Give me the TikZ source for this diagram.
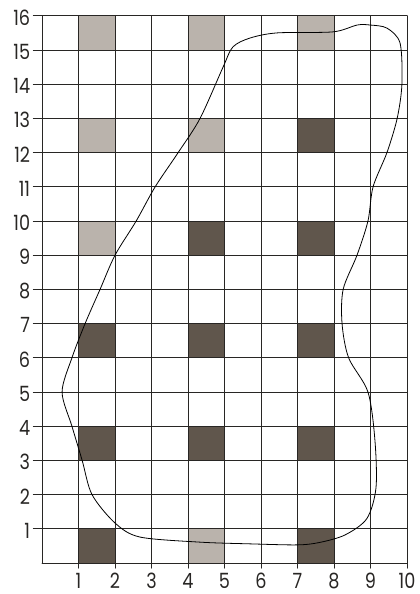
\documentclass[tikz,border=0pt]{standalone}
\usepackage{fontspec}
\setmainfont{Poppins}[FakeStretch=0.84]
\usetikzlibrary{positioning}

\definecolor{darkcell}{RGB}{96,86,76}
\definecolor{lightcell}{RGB}{186,179,172}
\definecolor{inkline}{RGB}{40,38,36}

\begin{document}
\begin{tikzpicture}[x=36.5pt, y=34.2pt, line cap=round]
\tikzstyle{gridline}=[draw=inkline, line width=0.9pt]
\tikzstyle{dark}=[fill=darkcell]
\tikzstyle{light}=[fill=lightcell]
\tikzstyle{tag}=[text=inkline, font=\fontsize{21}{21}\selectfont, inner sep=0pt]
\tikzstyle{outline}=[draw=black, line width=0.8pt]

\useasboundingbox (-1.151,-0.906) rectangle (10.329,16.462);

% shaded cells
\foreach \c/\r in {1/15, 4/15, 7/15, 1/12, 4/12, 1/9, 4/0}
  \path[light] (\c,\r) rectangle ++(1,1);
\foreach \c/\r in {7/12, 4/9, 7/9, 1/6, 4/6, 7/6, 1/3, 4/3, 7/3, 1/0, 7/0}
  \path[dark] (\c,\r) rectangle ++(1,1);

% grid
\foreach \i in {0,...,10}
  \draw[gridline] (\i,\ifnum\i=0 0\else -0.15\fi) -- (\i,16);
\foreach \j in {0,...,16}
  \draw[gridline] (\ifnum\j=0 0\else -0.24\fi,\j) -- (10,\j);

% axis numbers
\foreach \i in {1,...,10}
  \node[tag, anchor=base] (x\i) at (\i,-0.75) {\i};
\foreach \j in {1,...,16}
  \node[tag, anchor=east] (y\j) at (-0.32,\j-0.05) {\j};

% boundary
\draw[outline] plot[smooth cycle, tension=0.5] coordinates {
  (0.55,5.0) (0.82,6.0) (1.18,7.0) (1.59,8.0) (2.0,9.0)
  (2.58,10.0) (3.1,11.0) (3.73,12.0) (4.33,13.0) (4.96,14.5)
  (5.23,15.09) (5.70,15.35) (6.44,15.50) (7.97,15.53)
  (8.63,15.73) (8.99,15.73) (9.45,15.64) (9.81,15.2)
  (9.86,14.0) (9.73,13.0) (9.45,12.0) (9.07,11.0) (8.93,10.0)
  (8.63,9.0) (8.25,8.0) (8.22,7.0) (8.40,6.0) (8.93,5.0)
  (9.12,3.6) (9.15,2.2) (8.9,1.3) (8.3,0.82) (7.6,0.60) (6.99,0.53)
  (5.70,0.56) (4.33,0.61) (2.68,0.76) (2.0,1.17) (1.37,2.0)
  (1.1,3.0) (0.82,4.0)};
\end{tikzpicture}
\end{document}
